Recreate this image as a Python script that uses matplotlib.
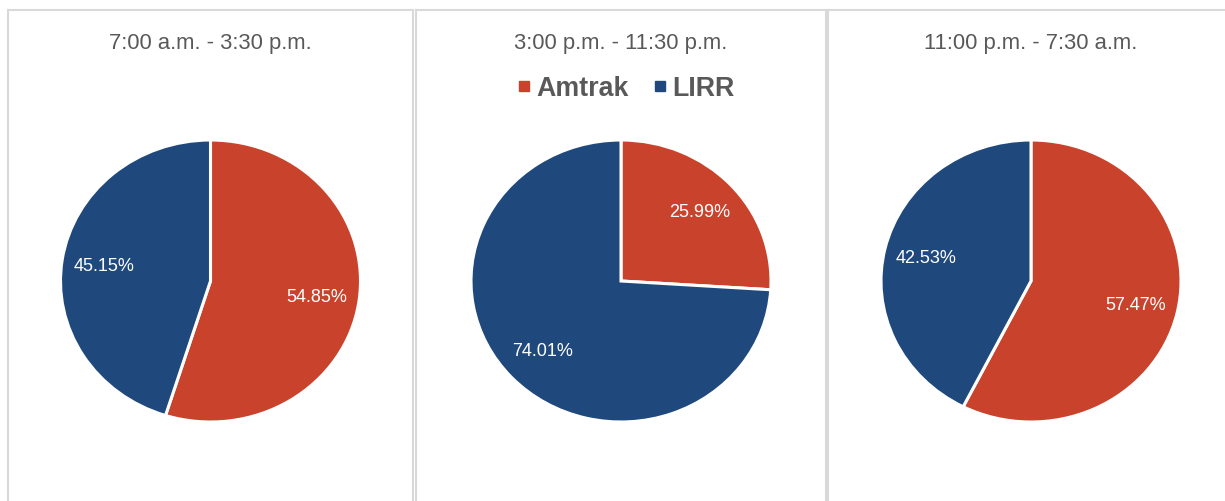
import matplotlib
matplotlib.use("Agg")
import matplotlib.pyplot as plt
from matplotlib.lines import Line2D

plt.rcParams['font.family'] = ['Liberation Sans', 'DejaVu Sans']

shifts = ["7:00 a.m. - 3:30 p.m.", "3:00 p.m. - 11:30 p.m.", "11:00 p.m. - 7:30 a.m."]
series = ["Amtrak", "LIRR"]
amtrak = [54.85, 25.99, 57.47]
lirr = [45.15, 74.01, 42.53]
colors = ["#C9432C", "#1F497D"]

W, H = 1225, 502
fig = plt.figure(figsize=(W / 100, H / 100), dpi=100)

# panel frames in pixels: (left, right)
panels = [(8, 413), (416, 826), (828, 1240)]
top = 11
centers = [210.5, 621, 1031]
cy = 282
rx, ry = 150, 141

for i, (l, r) in enumerate(panels):
    frame = fig.add_axes([l / W, -0.1, (r - l) / W, (H - top) / H + 0.1])
    frame.set_xticks([])
    frame.set_yticks([])
    frame.patch.set_alpha(0)
    for s in frame.spines.values():
        s.set_color("#D9D9D9")
        s.set_linewidth(1.5)
    fig.text(centers[i] / W, 1 - 43 / H, shifts[i],
             ha="center", va="center", fontsize=15.8, color="#595959")

    ax = fig.add_axes([(centers[i] - rx) / W, (H - cy - ry) / H, 2 * rx / W, 2 * ry / H])
    wedges, texts, autotexts = ax.pie(
        [amtrak[i], lirr[i]], colors=colors, startangle=90, counterclock=False,
        autopct=lambda p: f"{p:.2f}%", pctdistance=0.72,
        wedgeprops=dict(edgecolor="white", linewidth=2.2),
        textprops=dict(color="white", fontsize=13))
    ax.set_aspect("auto")
    ax.set_xlim(-1, 1)
    ax.set_ylim(-1, 1)
    ax.axis("off")

handles = [Line2D([], [], marker="s", linestyle="none", markersize=7,
                  markerfacecolor=c, markeredgecolor=c) for c in colors]
leg = fig.legend(handles, series, loc="center", bbox_to_anchor=(626 / W, 1 - 89 / H),
                 ncol=2, frameon=False, handlelength=0.5, handletextpad=0.2,
                 columnspacing=0.95, prop=dict(size=19.3, weight="bold"))
for t in leg.get_texts():
    t.set_color("#595959")

fig.savefig("out.png", dpi=100)
